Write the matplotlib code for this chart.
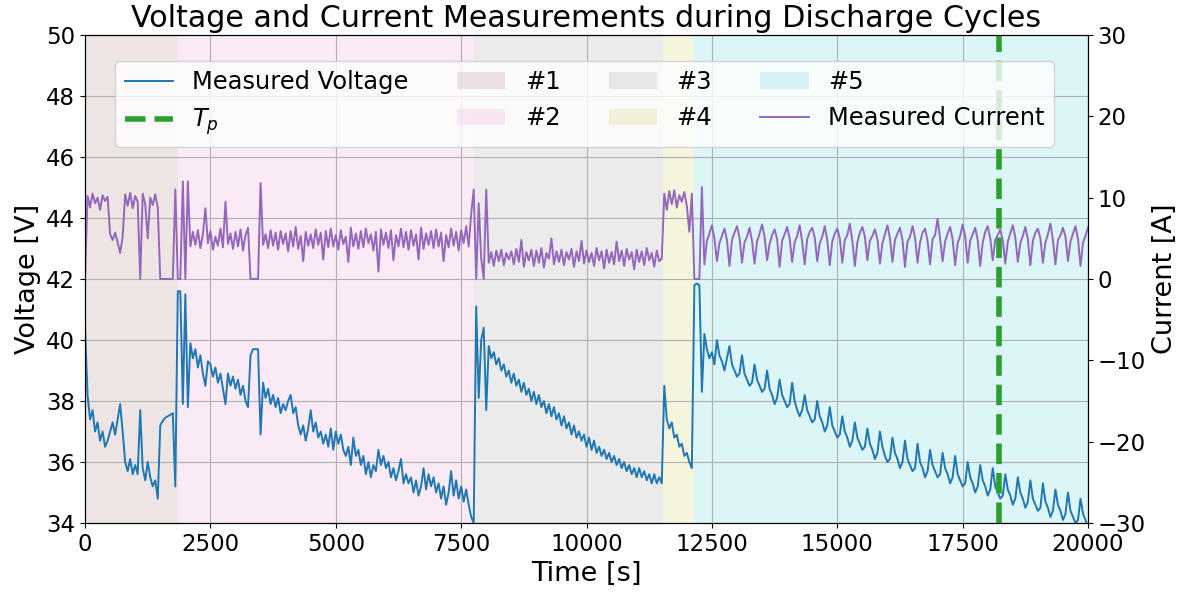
import numpy as np
import matplotlib.pyplot as plt

time = np.arange(0, 20001, 50)

voltage = [
    40.4, 38.2, 37.4, 37.7, 37.0, 37.3, 36.7, 37.0, 36.5, 36.7,
    37.0, 37.3, 36.9, 37.4, 37.9, 37.0, 36.0, 35.7, 36.1, 35.6,
    35.9, 35.6, 37.7, 35.8, 35.4, 36.0, 35.5, 35.2, 35.4, 34.8,
    37.2, 37.35, 37.45, 37.5, 37.55, 37.6, 35.2, 41.6, 41.6, 37.9,
    41.5, 37.8, 39.9, 39.4, 39.7, 39.1, 39.5, 38.9, 38.5, 39.3,
    39.2, 38.8, 39.1, 38.6, 38.9, 38.4, 37.9, 38.9, 38.5, 38.8,
    38.4, 38.7, 38.2, 38.5, 38.0, 37.8, 39.5, 39.7, 39.7, 39.7,
    36.9, 38.6, 38.1, 38.4, 37.9, 38.2, 37.8, 38.1, 37.6, 37.9,
    37.7, 38.0, 38.2, 37.6, 37.8, 37.2, 36.9, 37.2, 36.7, 37.1,
    37.7, 37.0, 37.3, 36.8, 37.0, 36.6, 36.9, 36.5, 37.1, 36.4,
    37.0, 36.6, 36.9, 36.4, 36.2, 36.5, 35.9, 36.8, 36.2, 36.4,
    35.9, 36.2, 35.6, 36.0, 35.5, 35.9, 35.7, 36.4, 35.9, 36.2,
    35.8, 36.0, 35.5, 35.8, 35.4, 35.7, 36.1, 35.3, 35.6, 35.3,
    35.5, 35.0, 35.4, 34.9, 35.2, 35.8, 35.1, 35.6, 35.2, 35.5,
    35.0, 35.3, 34.8, 35.2, 34.6, 35.0, 35.7, 34.9, 35.4, 34.8,
    35.2, 34.7, 35.1, 34.6, 34.2, 34.0, 41.1, 38.1, 40.0, 40.4,
    37.7, 39.8, 39.4, 39.6, 39.2, 39.4, 39.0, 39.2, 38.8, 39.0,
    38.6, 38.9, 38.5, 38.7, 38.3, 38.6, 38.2, 38.4, 38.0, 38.3,
    37.9, 38.2, 37.8, 38.0, 37.6, 37.9, 37.5, 37.8, 37.4, 37.6,
    37.2, 37.5, 37.1, 37.3, 36.9, 37.2, 36.8, 37.0, 36.7, 36.9,
    36.5, 36.8, 36.4, 36.7, 36.3, 36.5, 36.2, 36.4, 36.1, 36.3,
    36.0, 36.2, 35.9, 36.1, 35.8, 36.0, 35.7, 35.9, 35.6, 35.8,
    35.5, 35.8, 35.5, 35.7, 35.4, 35.6, 35.3, 35.6, 35.3, 35.5,
    35.3, 38.5, 37.4, 37.1, 37.3, 36.8, 36.9, 36.5, 36.6, 36.2,
    36.3, 36.0, 35.8, 41.8, 41.85, 41.8, 38.3,
    # cycle 5
    40.2, 39.7, 39.4, 39.6, 39.2,
    40.0, 39.5, 39.3, 39.0, 39.4,
    39.8, 39.2, 39.0, 38.8, 38.9,
    39.5, 38.9, 38.7, 38.5, 38.6,
    39.2, 38.7, 38.5, 38.3, 38.4,
    39.0, 38.4, 38.2, 37.9, 38.1,
    38.7, 38.2, 38.0, 37.8, 37.9,
    38.6, 38.0, 37.7, 37.5, 37.7,
    38.2, 37.7, 37.5, 37.3, 37.4,
    38.0, 37.5, 37.3, 37.0, 37.2,
    37.8, 37.2, 37.0, 36.8, 36.9,
    37.5, 37.0, 36.8, 36.5, 36.7,
    37.3, 36.8, 36.6, 36.4, 36.5,
    37.1, 36.6, 36.4, 36.1, 36.3,
    37.0, 36.5, 36.2, 36.0, 36.1,
    36.8, 36.3, 36.1, 35.8, 36.0,
    36.7, 36.1, 35.9, 35.7, 35.8,
    36.6, 36.0, 35.8, 35.5, 35.7,
    36.4, 35.9, 35.7, 35.5, 35.6,
    36.3, 35.8, 35.6, 35.3, 35.5,
    36.2, 35.6, 35.4, 35.2, 35.3,
    36.0, 35.5, 35.3, 35.0, 35.2,
    35.9, 35.4, 35.2, 34.9, 35.1,
    35.8, 35.2, 35.0, 34.8, 34.9,
    35.6, 35.1, 34.9, 34.6, 34.8,
    35.5, 35.0, 34.8, 34.5, 34.7,
    35.4, 34.8, 34.6, 34.4, 34.5,
    35.3, 34.7, 34.5, 34.2, 34.4,
    35.1, 34.6, 34.4, 34.1, 34.3,
    35.0, 34.4, 34.2, 34.0, 34.1,
    34.8, 34.3, 34.1, 33.8,
]

current = [
    0.0, 10.2, 8.8, 10.5, 9.3, 10.0, 8.5, 10.3, 9.6, 10.1,
    5.5, 4.8, 5.7, 4.5, 3.2, 5.2, 10.4, 9.0, 10.6, 8.7,
    10.2, 9.5, 0.0, 10.5, 9.2, 5.0, 10.0, 9.1, 10.4, 8.8,
    0.0, 0.0, 0.0, 0.0, 0.0, 0.0, 11.0, 0.0, 0.0, 12.0,
    0.0, 12.0, 4.0, 5.8, 4.2, 6.0, 3.8, 5.5, 8.7, 4.4,
    5.9, 3.6, 5.2, 4.1, 6.2, 3.9, 9.5, 4.3, 5.6, 3.7,
    5.8, 4.0, 6.1, 3.5, 5.4, 6.3, 0.0, 0.0, 0.0, 0.0,
    11.8, 4.2, 5.5, 3.8, 6.0, 4.1, 5.7, 3.6, 5.9, 4.3,
    5.6, 3.4, 5.9, 4.0, 6.4, 3.7, 5.3, 2.2, 5.8, 4.1,
    5.5, 3.8, 6.1, 4.2, 5.7, 2.4, 5.9, 3.9, 6.2, 4.0,
    5.4, 3.6, 6.0, 4.3, 5.2, 2.1, 6.3, 4.0, 5.6, 3.7,
    5.9, 3.9, 6.2, 4.4, 5.5, 3.5, 5.8, 0.9, 6.1, 4.2,
    5.7, 3.8, 6.0, 2.3, 5.4, 4.0, 6.2, 3.9, 5.8, 3.6,
    6.0, 4.1, 5.5, 2.4, 6.3, 3.7, 5.6, 4.2, 5.9, 3.8,
    6.1, 4.0, 5.7, 2.2, 5.4, 3.9, 6.2, 4.1, 5.8, 3.5,
    6.0, 4.4, 6.5, 4.0, 8.0, 11.0, 0.0, 9.3, 2.5, 0.0,
    11.0, 2.0, 3.3, 1.6, 3.5, 2.2, 3.6, 1.7, 3.2, 2.4,
    3.4, 1.8, 3.7, 2.1, 4.8, 1.5, 3.3, 2.3, 3.6, 1.6,
    3.5, 2.0, 3.8, 1.4, 3.2, 2.5, 5.0, 1.8, 3.4, 2.1,
    3.6, 1.7, 3.3, 2.4, 3.7, 1.5, 3.4, 2.2, 4.7, 1.9,
    3.5, 2.1, 3.2, 1.6, 3.8, 2.3, 3.4, 1.3, 3.6, 2.0,
    3.3, 1.8, 4.6, 2.2, 3.5, 1.6, 3.7, 2.4, 3.3, 1.2,
    3.6, 2.1, 3.4, 1.7, 3.8, 2.3, 3.2, 1.5, 3.5, 2.2,
    2.5, 10.5, 8.5, 10.8, 9.2, 10.9, 8.8, 10.3, 9.5, 10.7,
    9.0, 5.8, 10.5, 0.0, 0.0, 0.0, 11.3,
    # cycle 5
    1.8, 4.7, 5.6, 6.6, 5.0,
    2.2, 4.4, 5.3, 6.2, 4.8,
    1.6, 4.8, 5.7, 6.5, 5.1,
    2.0, 4.5, 5.2, 6.3, 4.7,
    1.9, 4.6, 5.6, 6.7, 5.2,
    2.3, 4.3, 5.4, 6.1, 4.9,
    1.5, 4.7, 5.5, 6.4, 5.0,
    2.1, 4.5, 5.3, 6.6, 4.6,
    1.8, 4.9, 5.8, 6.3, 5.1,
    2.2, 4.4, 5.2, 6.5, 4.8,
    1.7, 4.6, 5.6, 6.2, 5.0,
    2.0, 4.8, 5.4, 6.8, 4.7,
    1.6, 4.5, 5.7, 6.4, 5.2,
    2.3, 4.7, 5.3, 6.1, 4.9,
    1.9, 4.4, 5.5, 6.6, 5.0,
    2.1, 4.8, 5.6, 6.3, 4.8,
    1.5, 4.6, 5.2, 6.5, 5.1,
    2.0, 4.5, 5.7, 6.2, 4.7,
    1.8, 4.9, 5.4, 7.4, 5.0,
    2.2, 4.6, 5.6, 6.4, 4.9,
    1.7, 4.4, 5.3, 6.7, 5.2,
    2.0, 4.7, 5.5, 6.3, 4.8,
    1.6, 4.5, 5.8, 6.5, 5.0,
    2.3, 4.8, 5.4, 6.1, 4.7,
    1.9, 4.6, 5.6, 6.6, 5.1,
    2.1, 4.4, 5.3, 6.4, 4.9,
    1.7, 4.7, 5.7, 6.2, 5.0,
    2.0, 4.5, 5.5, 6.8, 4.8,
    1.8, 4.8, 5.4, 6.3, 5.2,
    2.2, 4.6, 5.6, 6.5, 4.9,
    1.6, 4.5, 5.3, 6.4,
]

phase_names = ['#1', '#2', '#3', '#4', '#5']
phase_edges = [0, 1854, 7757, 11525, 12143, 20000]
phase_colors = ['tab:brown', 'tab:pink', 'tab:gray', 'tab:olive', 'tab:cyan']
t_p = 18225

# PLOT
fig, ax = plt.subplots(figsize=(11.86, 5.93), dpi=100)
fig.subplots_adjust(left=0.0717, right=0.9174, top=0.941, bottom=0.118)

span_handles = []
for i, name in enumerate(phase_names):
    h = ax.axvspan(phase_edges[i], phase_edges[i + 1], color=phase_colors[i],
                   alpha=0.15, lw=0, label=name)
    span_handles.append(h)

lv, = ax.plot(time, voltage, color='tab:blue', lw=1.4, label='Measured Voltage')
ltp = ax.axvline(t_p, color='tab:green', ls='--', lw=4, label='$T_p$')
ax.set_xlim(0, 20000)
ax.set_ylim(34, 50)
ax.set_xlabel('Time [s]', fontsize=19.5)
ax.set_ylabel('Voltage [V]', fontsize=19.5)
ax.tick_params(labelsize=16.5)
ax.grid(True)

ax2 = ax.twinx()
li, = ax2.plot(time, current, color='tab:purple', lw=1.4, label='Measured Current')
ax2.set_ylim(-30, 30)
ax2.set_ylabel('Current [A]', fontsize=19.5)
ax2.tick_params(labelsize=16.5)

handles = [lv, ltp] + span_handles + [li]
ax2.legend(handles=handles, ncol=4, fontsize=17.4, loc='upper center',
           bbox_to_anchor=(0.498, 0.972))

ax.set_title('Voltage and Current Measurements during Discharge Cycles', fontsize=21.7)
plt.savefig('out.png')
